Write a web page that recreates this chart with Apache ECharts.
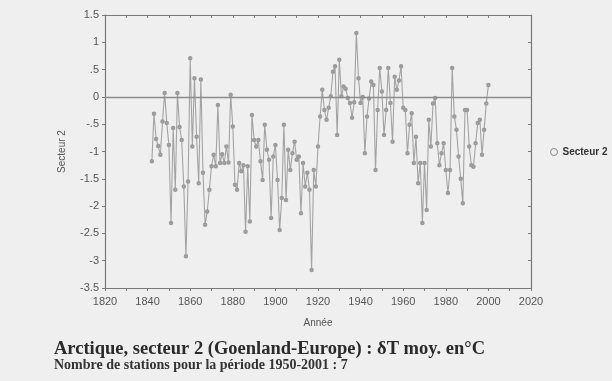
<!DOCTYPE html>
<html>
<head>
<meta charset="utf-8">
<script src="https://cdn.jsdelivr.net/npm/echarts@6/dist/echarts.min.js"></script>
<style>
  html, body { margin: 0; padding: 0; background: #efefef; }
  #chart { width: 612px; height: 381px; }
</style>
</head>
<body>
<div id="chart"></div>
<script>
  // années 1842 - 2001
  const startYear = 1842;
  const secteur2 = [
    -1.18, -0.31, -0.77, -0.90, -1.06, -0.45, 0.07, -0.48, -0.88, -2.31,
    -0.57, -1.70, 0.07, -0.55, -0.79, -1.64, -2.92, -1.55, 0.71, -0.91,
    0.34, -0.73, -1.58, 0.32, -1.39, -2.34, -2.10, -1.70, -1.27, -1.06,
    -1.27, -0.15, -1.21, -1.05, -1.21, -0.91, -1.20, 0.04, -0.54, -1.61,
    -1.70, -1.21, -1.36, -1.25, -2.47, -1.27, -2.28, -0.33, -0.79, -0.91,
    -0.79, -1.18, -1.52, -0.51, -0.97, -1.15, -2.22, -1.09, -0.88, -1.52,
    -2.44, -1.85, -0.51, -1.89, -0.97, -1.34, -1.03, -0.82, -1.15, -1.09,
    -2.13, -1.21, -1.64, -1.39, -1.70, -3.17, -1.34, -1.64, -0.91, -0.36,
    0.13, -0.24, -0.42, -0.20, 0.01, 0.46, 0.56, -0.70, 0.68, 0.01,
    0.19, 0.15, -0.02, -0.11, -0.38, -0.10, 1.17, 0.34, -0.11, 0.00,
    -1.03, -0.36, -0.03, 0.28, 0.22, -1.34, -0.24, 0.53, 0.10, -0.70,
    -0.24, 0.53, -0.11, -0.82, 0.37, 0.13, 0.30, 0.56, -0.20, -0.24,
    -1.03, -0.51, -0.30, -1.21, -0.73, -1.58, -1.21, -2.31, -1.21, -2.07,
    -0.42, -0.91, -0.12, -0.02, -0.85, -1.25, -1.03, -0.85, -1.34, -1.76,
    -1.34, 0.53, -0.36, -0.60, -1.09, -1.50, -1.95, -0.24, -0.24, -0.91,
    -1.25, -1.28, -0.85, -0.48, -0.42, -1.06, -0.60, -0.12, 0.22
  ];
  const yearTicks = [1820, 2020];
  const tempTicks = [-3.5, 1.5];

  const points = secteur2.map((v, i) => [startYear + i, v]);
  const fmtY = v => String(v).replace(/^0\./, '.').replace(/^-0\./, '-.');
  const axisGray = '#7a7a7a';
  const labelStyle = { color: '#555', fontSize: 11, fontFamily: 'Liberation Sans' };

  const dom = echarts.init(document.getElementById('chart'));
  const option = {
    backgroundColor: '#efefef',
    animation: false,
    title: [{
      text: 'Arctique, secteur 2 (Goenland-Europe) : δT moy. en°C',
      left: 54, top: 340, padding: 0,
      textStyle: { fontFamily: 'Liberation Serif', fontWeight: 'bold', fontSize: 18.5, color: '#2a2a2a' }
    }, {
      text: 'Nombre de stations pour la période 1950-2001 : 7',
      left: 54, top: 358, padding: 0,
      textStyle: { fontFamily: 'Liberation Serif', fontWeight: 'bold', fontSize: 14, color: '#333' }
    }],
    legend: {
      data: ['Secteur 2'],
      left: 550, top: 147,
      icon: 'circle',
      itemWidth: 7, itemHeight: 7,
      itemGap: 4,
      padding: 0,
      itemStyle: { color: 'rgba(0,0,0,0)', borderColor: '#888', borderWidth: 1 },
      textStyle: { color: '#333', fontSize: 10, fontWeight: 'bold', fontFamily: 'Liberation Sans' }
    },
    grid: { left: 105, right: 81, top: 15, bottom: 93 },
    xAxis: [{
      type: 'value',
      min: yearTicks[0], max: yearTicks[1], interval: 20,
      name: 'Année', nameLocation: 'middle', nameGap: 30,
      nameTextStyle: { color: '#555', fontSize: 10, fontFamily: 'Liberation Sans' },
      axisLine: { show: true, onZero: false, lineStyle: { color: axisGray, width: 1.2 } },
      axisTick: { show: true, length: 3, lineStyle: { color: axisGray } },
      minorTick: { show: true, splitNumber: 2, length: 3, lineStyle: { color: axisGray } },
      axisLabel: Object.assign({ formatter: v => String(v) }, labelStyle),
      splitLine: { show: false }
    }, {
      type: 'value', position: 'top',
      min: yearTicks[0], max: yearTicks[1], interval: 20,
      axisLine: { show: true, onZero: false, lineStyle: { color: axisGray, width: 1.2 } },
      axisTick: { show: true, inside: true, length: 3, lineStyle: { color: axisGray } },
      minorTick: { show: true, splitNumber: 2, length: 3, lineStyle: { color: axisGray } },
      axisLabel: { show: false },
      splitLine: { show: false }
    }],
    yAxis: [{
      type: 'value',
      min: tempTicks[0], max: tempTicks[1], interval: 0.5,
      name: 'Secteur 2', nameLocation: 'middle', nameGap: 38,
      nameTextStyle: { color: '#555', fontSize: 10, fontFamily: 'Liberation Sans' },
      axisLine: { show: true, onZero: false, lineStyle: { color: axisGray, width: 1.2 } },
      axisTick: { show: true, length: 3, lineStyle: { color: axisGray } },
      axisLabel: Object.assign({ formatter: fmtY, margin: 6 }, labelStyle),
      splitLine: { show: false }
    }, {
      type: 'value', position: 'right',
      min: tempTicks[0], max: tempTicks[1], interval: 0.5,
      axisLine: { show: true, onZero: false, lineStyle: { color: axisGray, width: 1.2 } },
      axisTick: { show: true, inside: true, length: 3, lineStyle: { color: axisGray } },
      axisLabel: { show: false },
      splitLine: { show: false }
    }],
    series: [{
      name: 'Secteur 2',
      type: 'line',
      xAxisIndex: 0, yAxisIndex: 0,
      data: points,
      symbol: 'emptyCircle',
      symbolSize: 2.5,
      showAllSymbol: true,
      lineStyle: { color: '#a3a3a3', width: 1.1 },
      itemStyle: { color: '#9a9a9a', borderWidth: 0.8 },
      markLine: {
        silent: true,
        symbol: 'none',
        label: { show: false },
        lineStyle: { color: '#8c8c8c', width: 1.4, type: 'solid' },
        data: [{ yAxis: 0 }]
      }
    }]
  };
  dom.setOption(option);
</script>
</body>
</html>
